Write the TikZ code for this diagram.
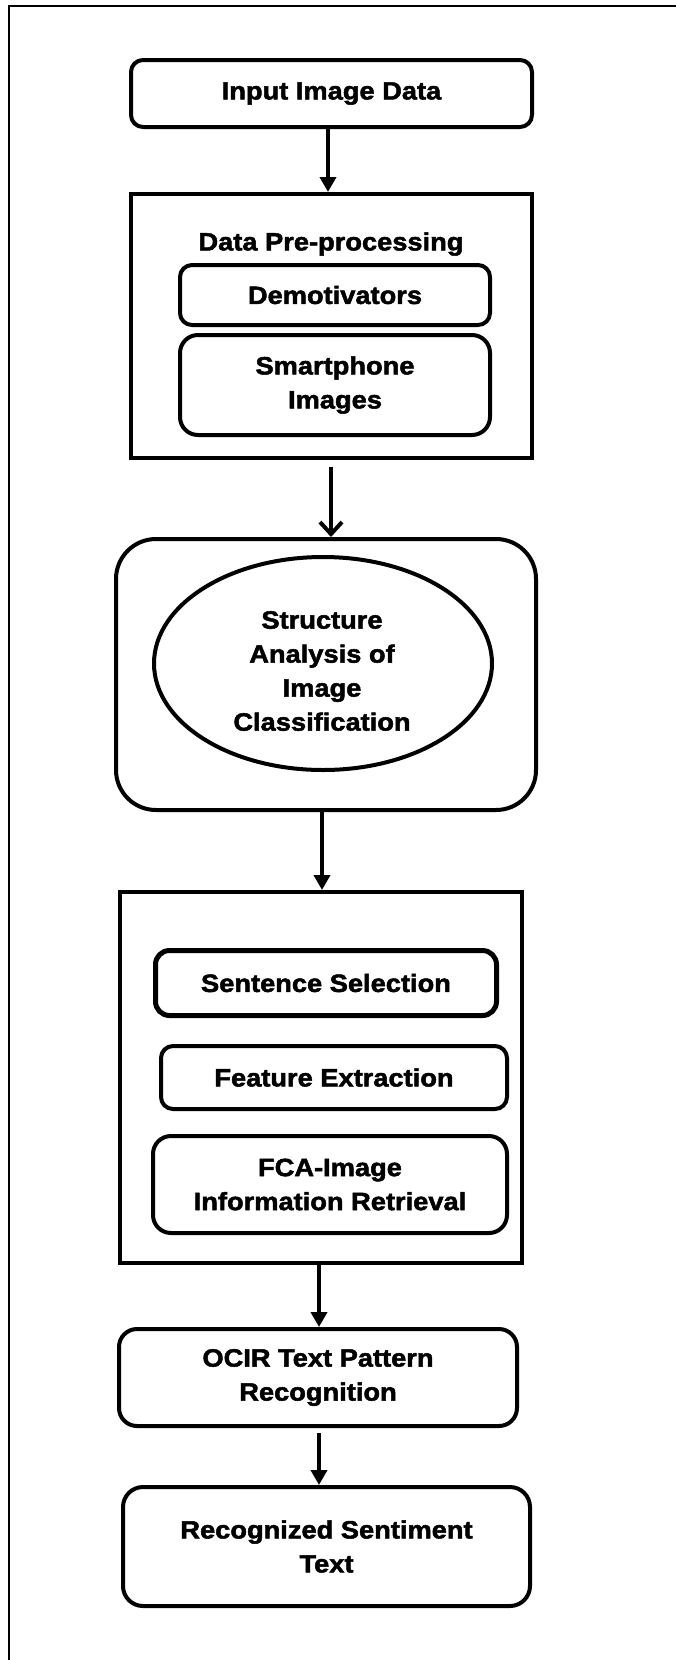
\documentclass[tikz,border=0pt]{standalone}
\usepackage{fontspec}
\setmainfont{Liberation Sans}[FakeStretch=1.09,FakeBold=2]
\usetikzlibrary{arrows.meta,shapes.geometric,calc}
\begin{document}
\begin{tikzpicture}[x=1pt,y=1pt,
  font=\fontsize{25}{34}\selectfont\bfseries,
  box/.style={draw, line width=4pt, rounded corners=12pt, align=center, inner sep=0pt},
  sqbox/.style={draw, line width=4pt, inner sep=0pt},
  arr/.style={line width=4pt, -{Triangle[width=16pt,length=15pt]}},
  barb/.style={line width=4pt, -{Straight Barb[width=22pt,length=12pt,line width=4pt]}},
  frame/.style={line width=2pt}
]
\useasboundingbox (0,0) rectangle (676,-1660);
% outer frame (top and left only)
\coordinate (fbl) at (8.5,-1660);
\coordinate (ftl) at (8.5,-6);
\coordinate (ftr) at (676,-6);
\draw[frame] (fbl) -- (ftl) -- (ftr);

% input
\node[box, minimum width=401pt, minimum height=67pt] (inp) at (331.5,-93.5) {Input Image Data};

% pre-processing group
\node[sqbox, minimum width=401pt, minimum height=264pt] (pre) at (331.5,-326) {};
\node (pretitle) at (331,-244) {Data Pre-processing};
\node[box, minimum width=310pt, minimum height=60pt] (demo) at (335,-295) {Demotivators};
\node[box, rounded corners=18pt, minimum width=310pt, minimum height=100pt] (smart) at (335,-385) {Smartphone\\Images};

% structure analysis
\node[box, rounded corners=40pt, minimum width=420pt, minimum height=271pt] (rbox) at (326,-674.5) {};
\node[ellipse, draw, line width=4pt, inner sep=0pt, minimum width=338pt, minimum height=213pt] (ell) at (323,-663.5) {};
\node[align=center] (elltext) at (322,-671) {Structure\\Analysis of\\Image\\Classification};

% sentence group
\node[sqbox, minimum width=402pt, minimum height=371pt] (b4) at (321,-1077.5) {};
\node[box, line width=5pt, rounded corners=14pt, minimum width=341pt, minimum height=65pt] (sent) at (326,-983) {Sentence Selection};
\node[box, rounded corners=12pt, minimum width=346pt, minimum height=63pt] (feat) at (334,-1077.5) {Feature Extraction};
\node[box, rounded corners=18pt, minimum width=354pt, minimum height=97pt] (fca) at (330,-1184.5) {FCA-Image\\Information Retrieval};

% OCIR
\node[box, rounded corners=18pt, minimum width=398pt, minimum height=97pt] (ocir) at (318,-1377.5) {OCIR Text Pattern\\Recognition};

% result
\node[box, rounded corners=20pt, minimum width=407pt, minimum height=119pt] (recog) at (326.5,-1546.5) {Recognized Sentiment\\Text};

% arrows
\draw[arr] ($(inp.south)+(-3.5,0)$) -- ($(pre.north)+(-3.5,0)$);
\draw[barb] ($(pre.south)+(-0.5,-7)$) -- ($(rbox.north)+(5,0)$);
\draw[arr] ($(rbox.south)+(-4,0)$) -- ($(b4.north)+(1,0)$);
\draw[arr] ($(b4.south)+(-2,0)$) -- ($(ocir.north)+(1,0)$);
\draw[arr] ($(ocir.south)+(1,-5)$) -- ($(recog.north)+(-7.5,0)$);
\end{tikzpicture}
\end{document}
